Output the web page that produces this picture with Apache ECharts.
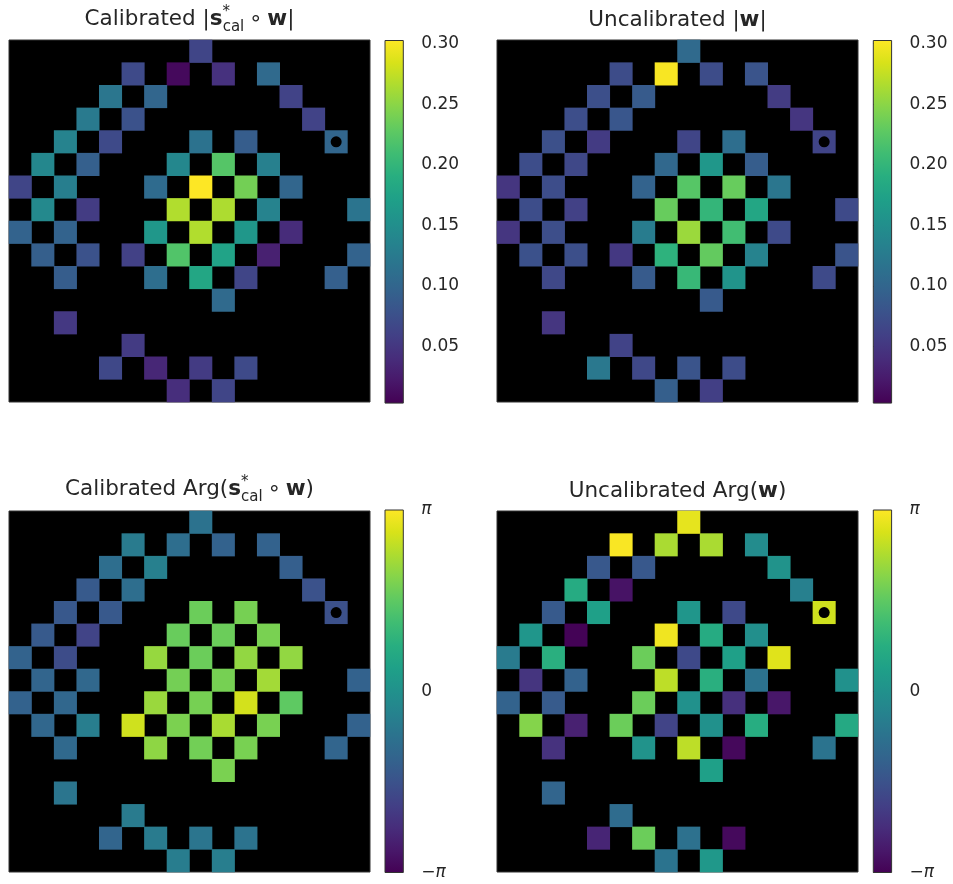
<!DOCTYPE html>
<html><head><meta charset="utf-8">
<script src="https://cdn.jsdelivr.net/npm/echarts@6/dist/echarts.min.js"></script>
<style>html,body{margin:0;padding:0;background:#fff}#c{width:953px;height:884px}</style>
</head><body><div id="c"></div><script>
// ---------- data ----------
const cells = [0,1,2,3,4,5,6,7,8,9,10,11,12,13,14,15];
const magRange = [0.0033, 0.3025];
const phaseRange = [-Math.PI, Math.PI];
const magTicks = [0.05, 0.10, 0.15, 0.20, 0.25, 0.30];
const magTickLabels = ['0.05', '0.10', '0.15', '0.20', '0.25', '0.30'];
const phaseTicks = [-Math.PI, 0, Math.PI];
const phaseTickLabels = ['\u2212{i|\u03c0}', '0', '{i|\u03c0}'];
const markerCell = [[14, 4]];

// [column, row, value]
const calMag = [
  [8,0,0.065],
  [5,1,0.07],[7,1,0.01],[9,1,0.045],[11,1,0.105],
  [4,2,0.12],[6,2,0.10],[12,2,0.062],
  [3,3,0.125],[5,3,0.078],[13,3,0.062],
  [2,4,0.135],[4,4,0.07],[8,4,0.115],[10,4,0.09],[14,4,0.10],
  [1,5,0.14],[3,5,0.093],[7,5,0.14],[9,5,0.222],[11,5,0.132],
  [0,6,0.065],[2,6,0.13],[6,6,0.107],[8,6,0.3025],[10,6,0.238],[12,6,0.10],
  [1,7,0.143],[3,7,0.055],[7,7,0.267],[9,7,0.265],[11,7,0.135],[15,7,0.118],
  [0,8,0.097],[2,8,0.097],[6,8,0.16],[8,8,0.267],[10,8,0.16],[12,8,0.04],
  [1,9,0.092],[3,9,0.078],[5,9,0.06],[7,9,0.22],[9,9,0.175],[11,9,0.03],[15,9,0.097],
  [2,10,0.09],[6,10,0.11],[8,10,0.18],[10,10,0.065],[14,10,0.093],
  [9,11,0.105],
  [2,12,0.052],
  [5,13,0.054],
  [4,14,0.068],[6,14,0.035],[8,14,0.054],[10,14,0.07],
  [7,15,0.042],[9,15,0.065]
];
const uncalMag = [
  [8,0,0.105],
  [5,1,0.072],[7,1,0.30],[9,1,0.072],[11,1,0.08],
  [4,2,0.075],[6,2,0.088],[12,2,0.055],
  [3,3,0.074],[5,3,0.083],[13,3,0.05],
  [2,4,0.076],[4,4,0.054],[8,4,0.065],[10,4,0.11],[14,4,0.064],
  [1,5,0.073],[3,5,0.068],[7,5,0.103],[9,5,0.16],[11,5,0.09],
  [0,6,0.05],[2,6,0.073],[6,6,0.097],[8,6,0.223],[10,6,0.232],[12,6,0.12],
  [1,7,0.073],[3,7,0.06],[7,7,0.232],[9,7,0.20],[11,7,0.18],[15,7,0.07],
  [0,8,0.05],[2,8,0.074],[6,8,0.127],[8,8,0.257],[10,8,0.21],[12,8,0.07],
  [1,9,0.077],[3,9,0.075],[5,9,0.052],[7,9,0.195],[9,9,0.23],[11,9,0.135],[15,9,0.08],
  [2,10,0.068],[6,10,0.088],[8,10,0.203],[10,10,0.157],[14,10,0.07],
  [9,11,0.087],
  [2,12,0.05],
  [5,13,0.063],
  [4,14,0.122],[6,14,0.068],[8,14,0.08],[10,14,0.072],
  [7,15,0.092],[9,15,0.058]
];
const calPhase = [
  [8,0,-0.785],
  [5,1,-0.57],[7,1,-0.88],[9,1,-1.19],[11,1,-1.19],
  [4,2,-0.9],[6,2,-0.44],[12,2,-1.26],
  [3,3,-1.38],[5,3,-0.9],[13,3,-1.57],
  [2,4,-1.44],[4,4,-1.42],[8,4,1.7],[10,4,1.82],[14,4,-1.6],
  [1,5,-1.38],[3,5,-1.88],[7,5,1.67],[9,5,1.7],[11,5,1.85],
  [0,6,-1.18],[2,6,-1.7],[6,6,2.14],[8,6,1.7],[10,6,2.1],[12,6,2.1],
  [1,7,-1.13],[3,7,-1.05],[7,7,1.8],[9,7,1.82],[11,7,2.26],[15,7,-1.19],
  [0,8,-1.19],[2,8,-1.07],[6,8,2.17],[8,8,1.82],[10,8,2.7],[12,8,1.57],
  [1,9,-1.07],[3,9,-0.5],[5,9,2.67],[7,9,1.87],[9,9,2.32],[11,9,1.84],[15,9,-1.19],
  [2,10,-1.02],[6,10,2.06],[8,10,1.78],[10,10,1.84],[14,10,-1.13],
  [9,11,1.86],
  [2,12,-0.7],
  [5,13,-0.57],
  [4,14,-1.12],[6,14,-0.56],[8,14,-0.72],[10,14,-0.77],
  [7,15,-0.52],[9,15,-0.5]
];
const uncalPhase = [
  [8,0,2.9],
  [5,1,3.1],[7,1,2.33],[9,1,2.33],[11,1,-0.13],
  [4,2,-1.44],[6,2,-1.44],[12,2,0.06],
  [3,3,0.69],[5,3,-2.83],[13,3,-0.44],
  [2,4,-1.38],[4,4,0.38],[8,4,0.13],[10,4,-1.76],[14,4,2.67],
  [1,5,0.13],[3,5,-3.1],[7,5,3.0],[9,5,0.69],[11,5,-0.06],
  [0,6,-0.57],[2,6,0.82],[6,6,1.7],[8,6,-1.76],[10,6,0.38],[12,6,2.83],
  [1,7,-2.2],[3,7,-1.19],[7,7,2.5],[9,7,0.82],[11,7,-0.79],[15,7,0.0],
  [0,8,-1.18],[2,8,-1.36],[6,8,1.7],[8,8,0.0],[10,8,-2.3],[12,8,-2.77],
  [1,9,1.96],[3,9,-2.58],[5,9,1.7],[7,9,-1.88],[9,9,0.0],[11,9,0.75],[15,9,0.65],
  [2,10,-2.26],[6,10,0.06],[8,10,2.5],[10,10,-3.02],[14,10,-0.75],
  [9,11,0.38],
  [2,12,-1.13],
  [5,13,-0.95],
  [4,14,-2.5],[6,14,1.7],[8,14,-0.82],[10,14,-3.0],
  [7,15,-0.75],[9,15,0.19]
];

// title tokens: [style, text]
const titleCalMag = [['n','Calibrated |'],['b','s'],['sup','*'],['sub','cal'],['op','\u2218'],['b','w'],['n','|']];
const titleUncalMag = [['n','Uncalibrated |'],['b','w'],['n','|']];
const titleCalArg = [['n','Calibrated Arg('],['b','s'],['sup','*'],['sub','cal'],['op','\u2218'],['b','w'],['n',')']];
const titleUncalArg = [['n','Uncalibrated Arg('],['b','w'],['n',')']];

// ---------- styling / layout ----------
const FONT = 'DejaVu Sans';
const TCOL = '#262626';
const viridis = ['#440154','#48186a','#472d7b','#424086','#3b528b','#33638d','#2c728e','#26828e',
  '#21918c','#1fa088','#28ae80','#3fbc73','#5ec962','#84d44b','#addc30','#d8e219','#fde725'];
const TS = 21.5, SS = 15;
const rich = {
  n:   {fontFamily: FONT, fontSize: TS, color: TCOL, lineHeight: 30, fontWeight: 'normal', align: 'left'},
  b:   {fontFamily: FONT, fontSize: TS, color: TCOL, lineHeight: 30, fontWeight: 'bold', align: 'left'},
  sup: {fontFamily: FONT, fontSize: SS, color: TCOL, lineHeight: 20, fontWeight: 'normal', verticalAlign: 'top', width: 0.1, align: 'left'},
  sub: {fontFamily: FONT, fontSize: SS, color: TCOL, lineHeight: 15, fontWeight: 'normal', verticalAlign: 'bottom', align: 'left'},
  op:  {fontFamily: FONT, fontSize: TS, color: TCOL, lineHeight: 30, fontWeight: 'normal', width: 23, align: 'center'}
};
const ctx = document.createElement('canvas').getContext('2d');
function tokenWidth(style, text) {
  const r = rich[style];
  if (r.width != null) return r.width;
  ctx.font = (r.fontWeight === 'bold' ? 'bold ' : 'normal ') + r.fontSize + 'px "' + FONT + '"';
  return ctx.measureText(text).width;
}
function makeTitle(tokens, cx, top) {
  let w = 0, txt = '';
  tokens.forEach(([s, t]) => { w += tokenWidth(s, t); txt += '{' + s + '|' + t + '}'; });
  return {text: txt, left: cx - w / 2, top: top, padding: 0, textAlign: 'left', textVerticalAlign: 'top',
          textStyle: {fontWeight: 'normal', fontFamily: FONT, fontSize: TS, color: TCOL, rich: rich}};
}

const panels = [
  {data: calMag,     vm: 0, title: titleCalMag,   tTop: 4.3,   grid: {left: 9,   top: 40,  width: 361, height: 362}, cb: {left: 385,   top: 40.5, width: 18.3, height: 362.6}},
  {data: uncalMag,   vm: 0, title: titleUncalMag, tTop: 5.9,   grid: {left: 497, top: 40,  width: 361, height: 362}, cb: {left: 873.3, top: 40.5, width: 18.3, height: 362.6}},
  {data: calPhase,   vm: 1, title: titleCalArg,   tTop: 474.9, grid: {left: 9,   top: 511, width: 361, height: 361}, cb: {left: 385,   top: 510,  width: 18.3, height: 362.5}},
  {data: uncalPhase, vm: 1, title: titleUncalArg, tTop: 476.9, grid: {left: 497, top: 511, width: 361, height: 361}, cb: {left: 873.3, top: 510,  width: 18.3, height: 362.5}}
];

const grids = [], xAxes = [], yAxes = [], series = [], titles = [];
function findLabel(ticks, labels, v) {
  for (let i = 0; i < ticks.length; i++) if (Math.abs(ticks[i] - v) < 1e-9) return labels[i];
  return '';
}
panels.forEach((p, i) => {
  titles.push(makeTitle(p.title, p.grid.left + p.grid.width / 2, p.tTop));
  grids.push(Object.assign({show: true, backgroundColor: '#000', borderColor: '#333', borderWidth: 1,
    containLabel: false, outerBoundsMode: 'none'}, p.grid));
  xAxes.push({gridIndex: i, type: 'category', data: cells, show: false, boundaryGap: true});
  yAxes.push({gridIndex: i, type: 'category', data: cells, show: false, inverse: true, boundaryGap: true});
});
panels.forEach((p, i) => {
  const gi = i + 4;
  const isMag = p.vm === 0;
  const range = isMag ? magRange : phaseRange;
  const ticks = isMag ? magTicks : phaseTicks;
  const labels = isMag ? magTickLabels : phaseTickLabels;
  grids.push(Object.assign({show: false, containLabel: false, outerBoundsMode: 'none'}, p.cb));
  xAxes.push({gridIndex: gi, type: 'value', min: 0, max: 1, show: false});
  yAxes.push({gridIndex: gi, type: 'value', min: range[0], max: range[1], position: 'right',
    axisLine: {show: false}, splitLine: {show: false},
    axisTick: {show: true, length: 6, lineStyle: {color: '#333', width: 1}, customValues: ticks},
    axisLabel: {show: true, margin: 18, fontSize: 17, fontFamily: FONT, color: TCOL, customValues: ticks,
      formatter: v => findLabel(ticks, labels, v),
      rich: {i: {fontFamily: FONT, fontSize: 17, color: TCOL, fontStyle: 'italic'}}}
  });
});
panels.forEach((p, i) => {
  series.push({type: 'heatmap', xAxisIndex: i, yAxisIndex: i, data: p.data, silent: true,
    itemStyle: {borderWidth: 0}, emphasis: {disabled: true}, progressive: 0});
});
panels.forEach((p, i) => {
  series.push({type: 'scatter', xAxisIndex: i, yAxisIndex: i, data: markerCell, symbol: 'circle',
    symbolSize: 11, itemStyle: {color: '#000', opacity: 1}, silent: true, z: 5});
});
panels.forEach((p, i) => {
  const range = p.vm === 0 ? magRange : phaseRange;
  series.push({type: 'custom', xAxisIndex: i + 4, yAxisIndex: i + 4, silent: true,
    data: [[0, range[0], 1, range[1]]], encode: {x: [0, 2], y: [1, 3]},
    renderItem: function (params, api) {
      const p0 = api.coord([api.value(0), api.value(1)]);
      const p1 = api.coord([api.value(2), api.value(3)]);
      const stops = viridis.map((c, k) => ({offset: k / (viridis.length - 1), color: c}));
      return {type: 'rect',
        shape: {x: p0[0], y: p1[1], width: p1[0] - p0[0], height: p0[1] - p1[1]},
        style: {fill: new echarts.graphic.LinearGradient(0, 1, 0, 0, stops), stroke: '#333', lineWidth: 1}};
    }});
});

const chart = echarts.init(document.getElementById('c'), null, {renderer: 'canvas'});
chart.setOption({
  animation: false,
  backgroundColor: '#fff',
  textStyle: {fontFamily: FONT},
  title: titles,
  grid: grids,
  xAxis: xAxes,
  yAxis: yAxes,
  visualMap: [
    {type: 'continuous', show: false, min: magRange[0], max: magRange[1], dimension: 2, seriesIndex: [0, 1], inRange: {color: viridis}},
    {type: 'continuous', show: false, min: phaseRange[0], max: phaseRange[1], dimension: 2, seriesIndex: [2, 3], inRange: {color: viridis}}
  ],
  series: series
});
</script></body></html>
